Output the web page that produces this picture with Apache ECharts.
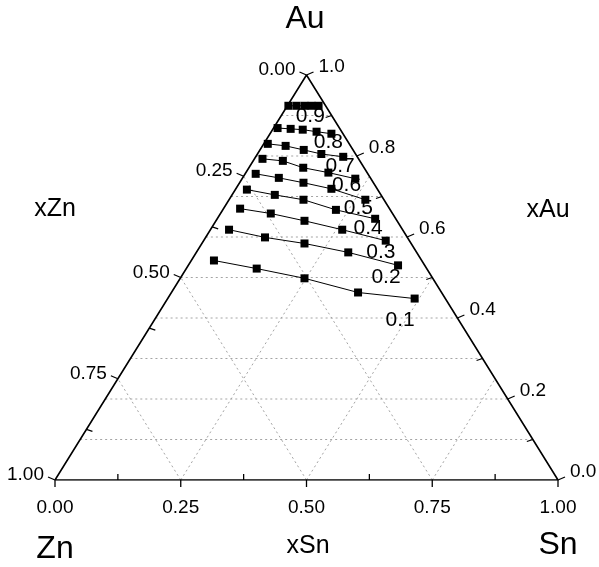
<!DOCTYPE html>
<html><head><meta charset="utf-8">
<script src="https://cdn.jsdelivr.net/npm/echarts@6/dist/echarts.min.js"></script>
<style>html,body{margin:0;padding:0;background:#fff}#c{width:599px;height:567px}</style>
</head><body><div id="c"></div>
<script>
// ---- axis ticks / labels ----
const snTicks = [0, 0.25, 0.5, 0.75, 1.0];
const snTickLabels = ['0.00', '0.25', '0.50', '0.75', '1.00'];
const snMinor = [0.125, 0.375, 0.625, 0.875];
const znTicks = [0, 0.25, 0.5, 0.75, 1.0];
const znTickLabels = ['0.00', '0.25', '0.50', '0.75', '1.00'];
const znMinor = [0.125, 0.375, 0.625, 0.875];
const auTicks = [0, 0.2, 0.4, 0.6, 0.8, 1.0];
const auTickLabels = ['0.0', '0.2', '0.4', '0.6', '0.8', '1.0'];
const auMinor = [0.1, 0.3, 0.5, 0.7, 0.9];
// ---- grid lines ----
const auGrid = [0.1, 0.2, 0.3, 0.4, 0.5, 0.6, 0.7, 0.8, 0.9];
const snGrid = [0.25, 0.5, 0.75];
const znGrid = [0.25, 0.5, 0.75];
// ---- iso lines (xSn, xAu per point) ----
const isoLabels = ['0.9', '0.8', '0.7', '0.6', '0.5', '0.4', '0.3', '0.2', '0.1'];
const sn_09 = [0.002, 0.018, 0.034, 0.048, 0.062];
const au_09 = [0.924, 0.924, 0.924, 0.924, 0.924];
const sn_08 = [0.008, 0.035, 0.060, 0.090, 0.122];
const au_08 = [0.869, 0.867, 0.865, 0.860, 0.855];
const sn_07 = [0.008, 0.046, 0.087, 0.127, 0.174];
const au_07 = [0.830, 0.825, 0.815, 0.805, 0.798];
const sn_06 = [0.016, 0.059, 0.108, 0.164, 0.225];
const au_06 = [0.793, 0.788, 0.771, 0.759, 0.744];
const sn_05 = [0.021, 0.072, 0.127, 0.190, 0.271];
const au_05 = [0.756, 0.746, 0.734, 0.719, 0.692];
const sn_04 = [0.023, 0.085, 0.148, 0.225, 0.314];
const au_04 = [0.717, 0.704, 0.692, 0.667, 0.645];
const sn_03 = [0.033, 0.100, 0.176, 0.262, 0.362];
const au_03 = [0.670, 0.658, 0.640, 0.618, 0.591];
const sn_02 = [0.037, 0.118, 0.204, 0.302, 0.417];
const au_02 = [0.618, 0.599, 0.584, 0.562, 0.530];
const sn_01 = [0.045, 0.140, 0.247, 0.371, 0.491];
const au_01 = [0.542, 0.522, 0.498, 0.463, 0.448];
// iso label anchors (xSn, xAu)
const isoLabelSn = [0.058, 0.127, 0.179, 0.216, 0.268, 0.312, 0.367, 0.408, 0.489];
const isoLabelAu = [0.899, 0.833, 0.776, 0.727, 0.670, 0.621, 0.562, 0.500, 0.394];

const isoSn = [sn_09, sn_08, sn_07, sn_06, sn_05, sn_04, sn_03, sn_02, sn_01];
const isoAu = [au_09, au_08, au_07, au_06, au_05, au_04, au_03, au_02, au_01];

function tern(sn, au) { return [sn + au / 2, au]; }
const FONT = '"Liberation Sans", Arial, sans-serif';

// grid line segments
const gridSegs = [];
auGrid.forEach(a => { const p = tern(0, a), q = tern(1 - a, a); gridSegs.push([p[0], p[1], q[0], q[1]]); });
snGrid.forEach(s => { const p = tern(s, 0), q = tern(s, 1 - s); gridSegs.push([p[0], p[1], q[0], q[1]]); });
znGrid.forEach(z => { const p = tern(1 - z, 0), q = tern(0, 1 - z); gridSegs.push([p[0], p[1], q[0], q[1]]); });

// ticks
const tickItems = [];
snTicks.forEach((s, i) => tickItems.push({ pos: tern(s, 0), dx: 0, dy: 7, label: snTickLabels[i], lx: 0, ly: 28, align: 'center' }));
snMinor.forEach(s => tickItems.push({ pos: tern(s, 0), dx: 0, dy: -6 }));
znTicks.forEach((z, i) => tickItems.push({ pos: tern(0, 1 - z), dx: -7, dy: -3, label: znTickLabels[i], lx: -11, ly: -5, align: 'right' }));
znMinor.forEach(z => tickItems.push({ pos: tern(0, 1 - z), dx: 6, dy: 2 }));
auTicks.forEach((a, i) => tickItems.push({ pos: tern(1 - a, a), dx: 7, dy: -3, label: auTickLabels[i], lx: 12, ly: -8, align: 'left' }));
auMinor.forEach(a => tickItems.push({ pos: tern(1 - a, a), dx: -6, dy: 2 }));

const series = [];
series.push({
  type: 'custom', coordinateSystem: 'cartesian2d', silent: true, clip: false, z: 1,
  encode: { x: [0, 2], y: [1, 3] },
  data: gridSegs,
  renderItem: function (params, api) {
    const p = api.coord([api.value(0), api.value(1)]);
    const q = api.coord([api.value(2), api.value(3)]);
    return { type: 'line', shape: { x1: p[0], y1: p[1], x2: q[0], y2: q[1] },
      style: { stroke: '#9a9a9a', lineWidth: 0.9, lineDash: [2, 3] } };
  }
});
series.push({
  type: 'line', silent: true, symbol: 'none', z: 3,
  data: [tern(0, 0), tern(1, 0), tern(0, 1), tern(0, 0)],
  lineStyle: { color: '#000', width: 1.6 }
});
series.push({
  type: 'custom', coordinateSystem: 'cartesian2d', silent: true, clip: false, z: 4,
  encode: { x: 0, y: 1 },
  data: tickItems.map(t => t.pos),
  renderItem: function (params, api) {
    const t = tickItems[params.dataIndex];
    const p = api.coord([api.value(0), api.value(1)]);
    const children = [{ type: 'line', shape: { x1: p[0], y1: p[1], x2: p[0] + t.dx, y2: p[1] + t.dy },
      style: { stroke: '#000', lineWidth: 1.3 } }];
    if (t.label) children.push({ type: 'text', style: { text: t.label, x: p[0] + t.lx, y: p[1] + t.ly,
      align: t.align, verticalAlign: 'middle', font: '19px ' + FONT, fill: '#000' } });
    return { type: 'group', children: children };
  }
});
isoSn.forEach((sn, k) => {
  series.push({
    type: 'line', name: isoLabels[k], z: 5,
    data: sn.map((s, i) => tern(s, isoAu[k][i])),
    symbol: 'rect', symbolSize: 8,
    itemStyle: { color: '#000' },
    lineStyle: { color: '#000', width: 1 }
  });
});
series.push({
  type: 'custom', coordinateSystem: 'cartesian2d', silent: true, clip: false, z: 6,
  encode: { x: 0, y: 1 },
  data: isoLabels.map((l, k) => tern(isoLabelSn[k], isoLabelAu[k])),
  renderItem: function (params, api) {
    const p = api.coord([api.value(0), api.value(1)]);
    return { type: 'text', style: { text: isoLabels[params.dataIndex], x: p[0], y: p[1],
      align: 'center', verticalAlign: 'middle', font: '21px ' + FONT, fill: '#000' } };
  }
});

function title(txt, x, y, size) {
  return { type: 'text', x: x, y: y, style: { text: txt, align: 'center', verticalAlign: 'middle',
    font: size + 'px ' + FONT, fill: '#000' } };
}
const chart = echarts.init(document.getElementById('c'), null, { renderer: 'canvas' });
chart.setOption({
  animation: false,
  backgroundColor: '#fff',
  grid: { left: 55, right: 41, top: 75, bottom: 87 },
  xAxis: { type: 'value', min: 0, max: 1, show: false },
  yAxis: { type: 'value', min: 0, max: 1, show: false },
  graphic: [
    title('Au', 305, 19, 32),
    title('xZn', 55, 209, 25),
    title('xAu', 548, 210, 25),
    title('Zn', 55, 549, 32),
    title('xSn', 308, 546, 25),
    title('Sn', 558, 545, 32)
  ],
  series: series
});
</script></body></html>
